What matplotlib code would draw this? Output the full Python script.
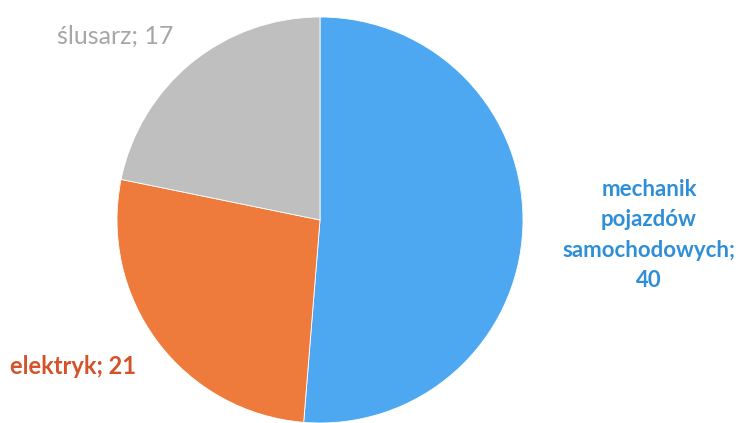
import matplotlib.pyplot as plt

# zawody i liczba osob
zawody = ["mechanik\npojazdów\nsamochodowych", "elektryk", "ślusarz"]
liczby = [40, 21, 17]
kolory = ["#4da8f1", "#ee7b3b", "#bfbfbf"]
kolory_etykiet = ["#2f8fd6", "#d4532a", "#a6a6a6"]
grubosc = ["bold", "bold", "normal"]

plt.rcParams['font.family'] = ['Lato', 'DejaVu Sans']

fig = plt.figure(figsize=(7.4, 4.23), dpi=100)
# pie centre at (320, 220) px, radius ~203 px
ax = fig.add_axes([117 / 740, 0, 406 / 740, 406 / 423])
ax.pie(liczby, colors=kolory, startangle=90, counterclock=False,
       wedgeprops=dict(linewidth=0.6, edgecolor="white"))
ax.set_xlim(-1, 1)
ax.set_ylim(-1, 1)
ax.set_aspect("equal")
ax.axis("off")

# label positions in pixels (x, y from top), alignment, size
pozycje = [(649, 235, "center", 16), (10, 366, "left", 17), (57, 36, "left", 18)]
for nazwa, n, kol, w, (px, py, ha, fs) in zip(zawody, liczby, kolory_etykiet, grubosc, pozycje):
    fig.text(px / 740, 1 - py / 423, f"{nazwa};\n{n}" if "\n" in nazwa else f"{nazwa}; {n}",
             color=kol, fontsize=fs, fontweight=w, ha=ha, va="center",
             linespacing=1.55)

fig.savefig("out.png", dpi=100)
